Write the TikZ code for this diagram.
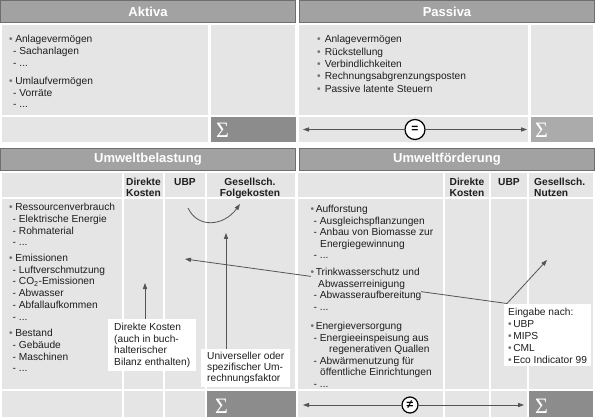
\documentclass[tikz,border=0pt]{standalone}
\usepackage{fontspec}
\setmainfont{Liberation Sans}
\newfontfamily\sumfont{Liberation Serif}
\usepackage{xcolor}
\usetikzlibrary{arrows.meta}
\definecolor{cellgray}{HTML}{E5E5E5}
\definecolor{hdrfill}{HTML}{A2A2A2}
\definecolor{hdrline}{HTML}{6E6E6E}
\definecolor{sumdark}{HTML}{8C8C8C}
\definecolor{sumlight}{HTML}{ABABAB}
\definecolor{inkgray}{HTML}{555555}
\definecolor{txtgray}{HTML}{1E1E1E}
\newcommand{\bul}[1][2.5pt]{\textcolor{black!55}{•}\hspace{#1}}
\newcommand{\dsh}[1][4pt]{\hspace*{#1}-\ }
\tikzset{
  hdr/.style={draw=hdrline,fill=hdrfill,line width=1.3pt,text=white,inner sep=0pt,
              minimum width=294.7pt,minimum height=21.7pt,
              font=\bfseries\fontsize{13}{15}\selectfont},   % Kopfleiste
  cell/.style={fill=cellgray},                                % Tabellenfeld
  sumbox/.style={fill=sumdark},                               % Summenfeld
  txt/.style={anchor=north west,inner sep=0pt,align=left,text=txtgray,
              font=\fontsize{10.2}{11.7}\selectfont},
  colhd/.style={anchor=north,inner sep=0pt,align=center,text=txtgray,
                font=\bfseries\fontsize{10.2}{11}\selectfont},
  note/.style={anchor=north west,fill=white,align=left,inner xsep=6pt,inner ysep=3pt,
               text=txtgray,font=\fontsize{10.2}{11.7}\selectfont},   % Hinweiskasten
  relc/.style={circle,draw,fill=white,line width=1.2pt,inner sep=0pt,
               font=\bfseries\fontsize{12}{12}\selectfont},
  sig/.style={anchor=base west,text=white,inner sep=0pt,font=\sumfont\fontsize{22}{22}\selectfont},
  ar/.style={-{Triangle[length=6pt,width=4.2pt]},draw=inkgray,line width=0.8pt}
}

\begin{document}
\begin{tikzpicture}[x=1pt,y=-1pt]
  \useasboundingbox (0,0) rectangle (595,417);

  % Bilanz
  \node[hdr] (aktiva) at (148,11.7) {Aktiva};
  \node[hdr] (passiva) at (447,11.7) {Passiva};
  \fill[cell] (2,25) rectangle (208,115);
  \fill[cell] (211,25) rectangle (295,115);
  \fill[cell] (2,117) rectangle (208,142);
  \fill[sumbox] (211,117) rectangle (296,142);
  \fill[cell] (299,25) rectangle (528,115);
  \fill[cell] (531,25) rectangle (593,115);
  \fill[cell] (299,117) rectangle (528,142);
  \fill[sumlight] (531,117) rectangle (593,142);

  \node[txt] (aktTxt) at (9,34.4) {\strut\bul Anlagevermögen\\ \dsh Sachanlagen\\ \dsh ...\\[6.6pt]
    \bul Umlaufvermögen\\ \dsh Vorräte\\ \dsh ...};
  \node[txt,font=\fontsize{10.2}{12.4}\selectfont] (pasTxt) at (317,33.9) {\strut\bul[4pt]Anlagevermögen\\
    \bul[4pt]Rückstellung\\ \bul[4pt]Verbindlichkeiten\\ \bul[4pt]Rechnungsabgrenzungsposten\\
    \bul[4pt]Passive latente Steuern};
  \node[sig] (sumAkt) at (216,138) {Σ};
  \node[sig] (sumPas) at (535,138) {Σ};
  \node[relc,minimum size=20pt] (eqSign) at (415,129.5) {=};
  \coordinate (eqL) at (303,129.5);
  \coordinate (eqR) at (527,129.5);
  \draw[ar] (eqSign) -- (eqL);
  \draw[ar] (eqSign) -- (eqR);

  % Umweltbilanz
  \node[hdr] (belast) at (148,159.5) {Umweltbelastung};
  \node[hdr] (foerd) at (447,159.5) {Umweltförderung};
  \foreach \xa/\xb in {2/122,124/163,165/205,207/295,298/443,445/489,491/527,529/593}{
    \foreach \ya/\yb in {173/197,199/389,391/417}{
      \fill[cell] (\xa,\ya) rectangle (\xb,\yb);}}
  \fill[sumbox] (207,391) rectangle (296,417);
  \fill[sumbox] (529,391) rectangle (593,417);

  \node[colhd] (dkB) at (143.5,177.5) {\strut Direkte\\Kosten};
  \node[colhd] (ubpB) at (185,177.5) {\strut UBP};
  \node[colhd] (gfB) at (250,177.5) {\strut Gesellsch.\\Folgekosten};
  \node[colhd] (dkF) at (467,177.5) {\strut Direkte\\Kosten};
  \node[colhd] (ubpF) at (509,177.5) {\strut UBP};
  \node[colhd,anchor=north west,align=left] (gnF) at (534,177.5) {\strut Gesellsch.\\Nutzen};

  \node[txt] (belTxt) at (9,202.4) {\strut\bul Ressourcenverbrauch\\ \dsh[3.5pt]Elektrische Energie\\
    \dsh[3.5pt]Rohmaterial\\ \dsh[3.5pt]...\\[4pt]
    \bul Emissionen\\ \dsh[3.5pt]Luftverschmutzung\\ \dsh[3.5pt]CO\textsubscript{2}-Emissionen\\
    \dsh[3.5pt]Abwasser\\ \dsh[3.5pt]Abfallaufkommen\\ \dsh[3.5pt]...\\[5pt]
    \bul Bestand\\ \dsh[3.5pt]Gebäude\\ \dsh[3.5pt]Maschinen\\ \dsh[3.5pt]...};

  \node[note] (dkNote) at (108,319) {\strut Direkte Kosten\\(auch in buch-\\halterischer\\Bilanz enthalten)};
  \node[note,font=\fontsize{10.2}{11}\selectfont] (ufNote) at (201,348.5) {\strut Universeller oder\\
    spezifischer Um-\\rechnungsfaktor};
  \coordinate (dkTip) at (145,283);
  \coordinate (ufTip) at (226,233);
  \draw[ar] (dkNote.north -| dkTip) -- (dkTip);
  \draw[ar] (ufNote.north -| ufTip) -- (ufTip);
  \coordinate (ubpA) at (188,208);
  \coordinate (gfTip) at (240,204);
  \draw[ar] (ubpA) .. controls (198,229) and (224,226) .. (gfTip);

  \node[note,inner xsep=4pt,font=\fontsize{10.2}{12}\selectfont] (eingabe) at (504,303.5) {\strut Eingabe nach:\\
    \bul[1.5pt]UBP\\ \bul[1.5pt]MIPS\\ \bul[1.5pt]CML\\ \bul[1.5pt]Eco Indicator 99};
  \coordinate (eingC) at ([xshift=3pt]eingabe.north west);
  \coordinate (emTip) at (185,259);
  \coordinate (nuTip) at (547,260);
  \draw[ar] (eingC) -- (emTip);
  \draw[ar] (eingC) -- (nuTip);

  \node[txt,font=\fontsize{10.2}{11.5}\selectfont] (aufTxt) at (310.5,204.5) {\strut\bul[1.5pt]Aufforstung\\
    \dsh[3pt]Ausgleichspflanzungen\\ \dsh[3pt]Anbau von Biomasse zur\\ \hspace*{9.5pt}Energiegewinnung\\
    \dsh[3pt]...};
  \node[txt,fill=cellgray,font=\fontsize{10.2}{11.5}\selectfont] (trinkTxt) at (310.5,267.5)
    {\strut\bul[1.5pt]Trinkwasserschutz und\\ \hspace*{7.5pt}Abwasserreinigung\\
    \dsh[3pt]Abwasseraufbereitung\\ \dsh[3pt]...};
  \node[txt,font=\fontsize{10.2}{11.5}\selectfont] (energTxt) at (310.5,321.5) {\strut\bul[1.5pt]Energieversorgung\\
    \dsh[3pt]Energieeinspeisung aus\\ \hspace*{18.5pt}regenerativen Quallen\\
    \dsh[3pt]Abwärmenutzung für\\ \hspace*{9.5pt}öffentliche Einrichtungen\\ \dsh[3pt]...};

  \node[sig] (sumBel) at (215,413) {Σ};
  \node[sig] (sumFoe) at (535,413) {Σ};
  \node[relc,minimum size=16pt] (neqSign) at (410,405) {≠};
  \coordinate (neqL) at (303,405);
  \coordinate (neqR) at (524,405);
  \draw[ar] (neqSign) -- (neqL);
  \draw[ar] (neqSign) -- (neqR);
\end{tikzpicture}
\end{document}
